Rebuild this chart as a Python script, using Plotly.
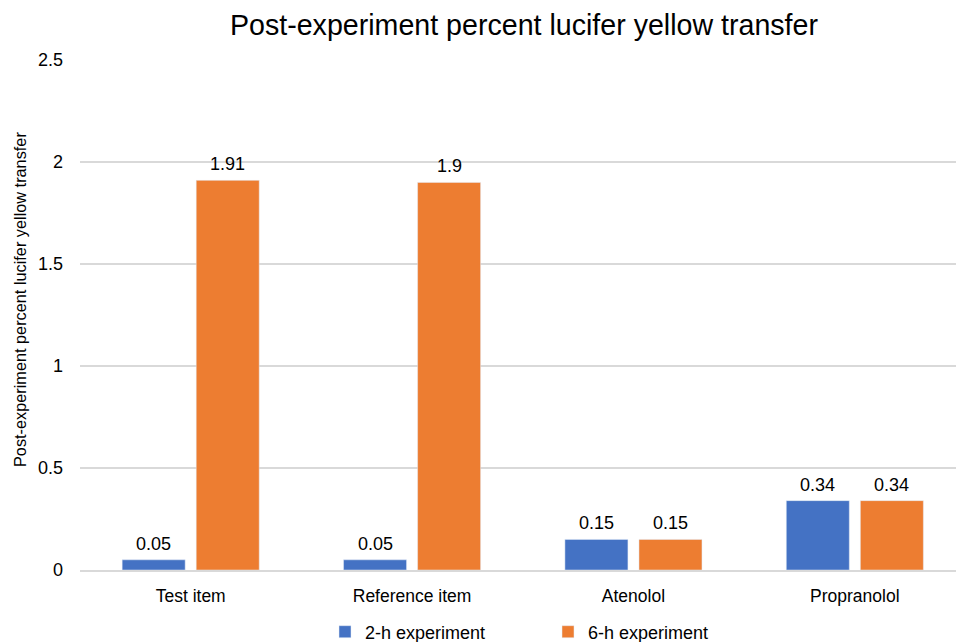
import plotly.graph_objects as go

categories = ["Test item", "Reference item", "Atenolol", "Propranolol"]
series_2h = [0.05, 0.05, 0.15, 0.34]
series_6h = [1.91, 1.9, 0.15, 0.34]
labels_2h = ["0.05", "0.05", "0.15", "0.34"]
labels_6h = ["1.91", "1.9", "0.15", "0.34"]
y_ticks = [0, 0.5, 1, 1.5, 2, 2.5]
y_tick_text = ["0", "0.5", "1", "1.5", "2", "2.5"]

FONT = "Liberation Sans, Arial, sans-serif"
BLUE = "#4472C4"
ORANGE = "#ED7D31"

fig = go.Figure()
fig.add_trace(go.Bar(x=categories, y=series_2h, name="2-h experiment", marker_color=BLUE))
fig.add_trace(go.Bar(x=categories, y=series_6h, name="6-h experiment", marker_color=ORANGE))

# data labels above bars
for series, labels, shift in [(series_2h, labels_2h, -37), (series_6h, labels_6h, 37)]:
    for cat, val, lab in zip(categories, series, labels):
        fig.add_annotation(x=cat, y=val, xref="x", yref="y", text=lab, showarrow=False,
                           xshift=shift, yanchor="bottom", yshift=4,
                           font=dict(size=18, color="#000000", family=FONT))

# y axis title as annotation
fig.add_annotation(x=(20 - 80) / 876, xref="paper", y=(570 - 300) / 510, yref="paper",
                   text="Post-experiment percent lucifer yellow transfer",
                   textangle=-90, showarrow=False, xanchor="center", yanchor="middle",
                   font=dict(size=16.3, color="#000000", family=FONT))

fig.update_layout(
    width=956, height=642,
    margin=dict(l=80, r=0, t=60, b=72, autoexpand=False),
    paper_bgcolor="white", plot_bgcolor="white",
    font=dict(family=FONT, color="#000000"),
    title=dict(text="Post-experiment percent lucifer yellow transfer",
               x=(524 - 80) / 876, xanchor="center", xref="paper",
               y=1 - 25 / 642, yanchor="middle", yref="container",
               font=dict(size=28.6, color="#000000", family=FONT)),
    barmode="group", bargap=0.331, bargroupgap=0.149,
    showlegend=True,
    legend=dict(orientation="h", x=(325 - 80) / 876, xanchor="left",
                y=1 - 632 / 642, yref="container", yanchor="middle",
                font=dict(size=18, color="#000000", family=FONT),
                entrywidth=178, entrywidthmode="pixels", tracegroupgap=0),
    xaxis=dict(range=[-0.5, 3.457], showgrid=False, showline=True, linecolor="#D9D9D9",
               linewidth=1.5, ticks="", ticklabelstandoff=9, automargin=False,
               tickfont=dict(size=17.5, color="#000000", family=FONT)),
    yaxis=dict(range=[0, 2.5], tickvals=y_ticks, ticktext=y_tick_text,
               showgrid=True, gridcolor="#D9D9D9", gridwidth=1.5,
               zeroline=False, showline=False, ticks="", automargin=False,
               ticklabelstandoff=16,
               tickfont=dict(size=18, color="#000000", family=FONT)),
)

fig.write_html("out.html")
